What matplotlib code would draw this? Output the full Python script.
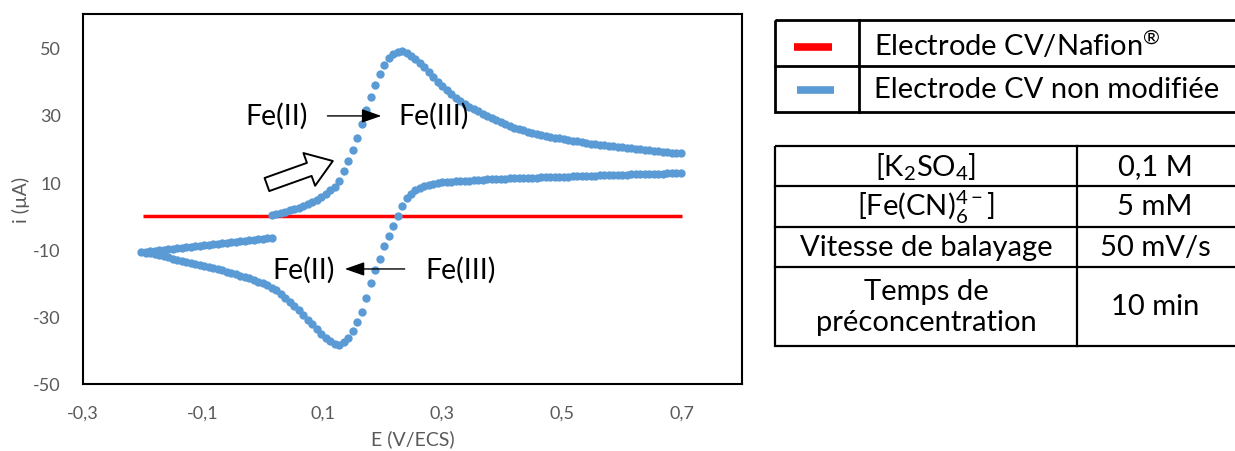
import matplotlib
matplotlib.use("Agg")
import matplotlib.pyplot as plt
from matplotlib.patches import Rectangle

plt.rcParams['font.family'] = ['Lato', 'DejaVu Sans']
plt.rcParams['mathtext.fontset'] = 'custom'
plt.rcParams['mathtext.rm'] = 'Lato'
plt.rcParams['mathtext.it'] = 'Lato:italic'
plt.rcParams['mathtext.bf'] = 'Lato:bold'

# ---------------- data ----------------
# Forward scan 1 (0.015 -> 0.6975 V)
E_fwd = [0.0150, 0.0225, 0.0300, 0.0375, 0.0450, 0.0525, 0.0600, 0.0675, 0.0750, 0.0825,
         0.0900, 0.0975, 0.1050, 0.1125, 0.1200, 0.1275, 0.1350, 0.1425, 0.1500, 0.1575,
         0.1650, 0.1725, 0.1800, 0.1875, 0.1950, 0.2025, 0.2100, 0.2175, 0.2250, 0.2325,
         0.2400, 0.2475, 0.2550, 0.2625, 0.2700, 0.2775, 0.2850, 0.2925, 0.3000, 0.3075,
         0.3150, 0.3225, 0.3300, 0.3375, 0.3450, 0.3525, 0.3600, 0.3675, 0.3750, 0.3825,
         0.3900, 0.3975, 0.4050, 0.4125, 0.4200, 0.4275, 0.4350, 0.4425, 0.4500, 0.4575,
         0.4650, 0.4725, 0.4800, 0.4875, 0.4950, 0.5025, 0.5100, 0.5175, 0.5250, 0.5325,
         0.5400, 0.5475, 0.5550, 0.5625, 0.5700, 0.5775, 0.5850, 0.5925, 0.6000, 0.6075,
         0.6150, 0.6225, 0.6300, 0.6375, 0.6450, 0.6525, 0.6600, 0.6675, 0.6750, 0.6825,
         0.6900, 0.6975]
i_fwd = [0.2, 0.6, 0.9, 1.2, 1.6, 2.0, 2.4, 2.9, 3.4, 4.0,
         4.7, 5.5, 6.5, 7.6, 8.7, 10.5, 13.3, 16.2, 19.6, 23.2,
         27.4, 31.5, 35.3, 38.9, 42.1, 44.8, 46.8, 48.1, 48.8, 49.0,
         48.4, 47.6, 46.5, 45.4, 44.2, 42.8, 41.2, 39.8, 38.5, 37.3,
         36.1, 35.0, 34.1, 33.3, 32.5, 31.8, 31.1, 30.4, 29.7, 29.0,
         28.4, 27.8, 27.2, 26.7, 26.2, 25.8, 25.4, 25.0, 24.7, 24.4,
         24.1, 23.8, 23.5, 23.2, 23.0, 22.7, 22.5, 22.3, 22.1, 21.9,
         21.7, 21.5, 21.4, 21.2, 21.0, 20.9, 20.7, 20.6, 20.4, 20.3,
         20.1, 20.0, 19.8, 19.7, 19.5, 19.4, 19.2, 19.1, 19.0, 18.8,
         18.7, 18.6]

# Reverse scan (0.6975 -> -0.2025 V)
E_rev = [0.6975, 0.6900, 0.6825, 0.6750, 0.6675, 0.6600, 0.6525, 0.6450, 0.6375, 0.6300,
         0.6225, 0.6150, 0.6075, 0.6000, 0.5925, 0.5850, 0.5775, 0.5700, 0.5625, 0.5550,
         0.5475, 0.5400, 0.5325, 0.5250, 0.5175, 0.5100, 0.5025, 0.4950, 0.4875, 0.4800,
         0.4725, 0.4650, 0.4575, 0.4500, 0.4425, 0.4350, 0.4275, 0.4200, 0.4125, 0.4050,
         0.3975, 0.3900, 0.3825, 0.3750, 0.3675, 0.3600, 0.3525, 0.3450, 0.3375, 0.3300,
         0.3225, 0.3150, 0.3075, 0.3000, 0.2925, 0.2850, 0.2775, 0.2700, 0.2625, 0.2550,
         0.2475, 0.2400, 0.2325, 0.2250, 0.2175, 0.2100, 0.2025, 0.1950, 0.1875, 0.1800,
         0.1725, 0.1650, 0.1575, 0.1500, 0.1425, 0.1350, 0.1275, 0.1200, 0.1125, 0.1050,
         0.0975, 0.0900, 0.0825, 0.0750, 0.0675, 0.0600, 0.0525, 0.0450, 0.0375, 0.0300,
         0.0225, 0.0150, 0.0075, 0.0000, -0.0075, -0.0150, -0.0225, -0.0300, -0.0375, -0.0450,
         -0.0525, -0.0600, -0.0675, -0.0750, -0.0825, -0.0900, -0.0975, -0.1050, -0.1125, -0.1200,
         -0.1275, -0.1350, -0.1425, -0.1500, -0.1575, -0.1650, -0.1725, -0.1800, -0.1875, -0.1950,
         -0.2025]
i_rev = [12.7, 12.6, 12.6, 12.6, 12.5, 12.5, 12.5, 12.4, 12.4, 12.4,
         12.3, 12.3, 12.2, 12.2, 12.2, 12.1, 12.1, 12.0, 12.0, 11.9,
         11.9, 11.8, 11.8, 11.7, 11.7, 11.6, 11.6, 11.5, 11.5, 11.4,
         11.4, 11.4, 11.3, 11.3, 11.3, 11.2, 11.2, 11.1, 11.1, 11.0,
         11.0, 10.9, 10.9, 10.8, 10.7, 10.7, 10.6, 10.5, 10.5, 10.4,
         10.3, 10.2, 10.1, 10.0, 9.8, 9.6, 9.3, 8.9, 8.3, 7.6,
         6.6, 5.3, 3.0, 0.0, -3.1, -6.0, -9.0, -12.7, -16.2, -20.0,
         -24.4, -28.5, -31.6, -34.3, -36.3, -37.6, -38.3, -38.0, -37.3, -36.3,
         -35.0, -33.5, -32.2, -30.9, -29.5, -28.1, -26.8, -25.5, -24.3, -23.2,
         -22.2, -21.4, -20.7, -20.1, -19.6, -19.1, -18.6, -18.2, -17.8, -17.4,
         -17.0, -16.6, -16.2, -15.8, -15.5, -15.2, -14.9, -14.6, -14.3, -14.0,
         -13.7, -13.4, -13.0, -12.7, -12.3, -12.0, -11.7, -11.4, -11.2, -11.0,
         -10.9]

# Forward scan 2 (-0.195 -> 0.015 V)
E_fwd2 = [-0.1950, -0.1875, -0.1800, -0.1725, -0.1650, -0.1575, -0.1500, -0.1425, -0.1350, -0.1275,
          -0.1200, -0.1125, -0.1050, -0.0975, -0.0900, -0.0825, -0.0750, -0.0675, -0.0600, -0.0525,
          -0.0450, -0.0375, -0.0300, -0.0225, -0.0150, -0.0075, 0.0000, 0.0075, 0.0150]
i_fwd2 = [-10.7, -10.5, -10.4, -10.2, -10.1, -9.9, -9.8, -9.6, -9.5, -9.3,
          -9.2, -9.0, -8.9, -8.7, -8.6, -8.4, -8.3, -8.1, -8.0, -7.8,
          -7.7, -7.5, -7.4, -7.2, -7.1, -6.9, -6.8, -6.6, -6.5]

# Nafion-modified electrode (flat line)
E_nafion = [-0.2, 0.7]
i_nafion = [0.0, 0.0]

xticks = [-0.3, -0.1, 0.1, 0.3, 0.5, 0.7]
xtick_labels = ['-0,3', '-0,1', '0,1', '0,3', '0,5', '0,7']
yticks = [-50, -30, -10, 10, 30, 50]
ytick_labels = ['-50', '-30', '-10', '10', '30', '50']

legend_labels = [r'Electrode CV/Nafion$^{\mathrm{®}}$', 'Electrode CV non modifiée']
param_names = [r'[K$_{\mathrm{2}}$SO$_{\mathrm{4}}$]', r'[Fe(CN)$_{\mathrm{6}}^{\mathrm{4-}}$]',
               'Vitesse de balayage', 'Temps de\npréconcentration']
param_values = ['0,1 M', '5 mM', '50 mV/s', '10 min']

RED = '#FF0000'
BLUE = '#5B9BD5'
GREY = '#595959'

# ---------------- figure ----------------
fig = plt.figure(figsize=(12.35, 4.52), dpi=100)
W, H = 1235, 452
ax = fig.add_axes([83 / W, 1 - 385 / H, (742 - 83) / W, (385 - 15) / H])

ax.plot(E_nafion, i_nafion, color=RED, lw=2.5, zorder=2, solid_capstyle='butt')
E_all = E_fwd + E_rev + E_fwd2
i_all = i_fwd + i_rev + i_fwd2
ax.plot(E_all, i_all, ls='none', marker='o', ms=6.0, mew=0, color=BLUE, zorder=3)

ax.set_xlim(-0.3, 0.8)
ax.set_ylim(-50, 60)
ax.set_xticks(xticks)
ax.set_xticklabels(xtick_labels)
ax.set_yticks(yticks)
ax.set_yticklabels(ytick_labels)
ax.tick_params(length=0, labelsize=13, colors=GREY)
ax.tick_params(axis='x', pad=15)
ax.tick_params(axis='y', pad=16)
for s in ax.spines.values():
    s.set_linewidth(1.5)
    s.set_color('black')
ax.set_xlabel('E (V/ECS)', fontsize=14, color=GREY, labelpad=6)
ax.set_ylabel('i (µA)', fontsize=14, color=GREY, labelpad=2)

# annotations
afs = 20.5
ax.text(0.0233, 29.9, 'Fe(II)', fontsize=afs, ha='center', va='center')
ax.text(0.285, 29.9, 'Fe(III)', fontsize=afs, ha='center', va='center')
ax.annotate('', xy=(0.198, 29.7), xytext=(0.108, 29.7),
            arrowprops=dict(arrowstyle='-|>,head_length=1.0,head_width=0.35', color='black',
                            lw=1.0, shrinkA=0, shrinkB=0, mutation_scale=12))
ax.text(0.0675, -15.9, 'Fe(II)', fontsize=afs, ha='center', va='center')
ax.text(0.330, -15.9, 'Fe(III)', fontsize=afs, ha='center', va='center')
ax.annotate('', xy=(0.137, -15.8), xytext=(0.237, -15.8),
            arrowprops=dict(arrowstyle='-|>,head_length=1.0,head_width=0.35', color='black',
                            lw=1.0, shrinkA=0, shrinkB=0, mutation_scale=12))
ax.annotate('', xy=(0.117, 16.3), xytext=(0.007, 9.3),
            arrowprops=dict(arrowstyle='simple,head_length=0.9,head_width=1.25,tail_width=0.5',
                            fc='white', ec='black', lw=1.4, shrinkA=0, shrinkB=0,
                            mutation_scale=20))

# ---------------- right-hand tables (pixel coords) ----------------
tx = fig.add_axes([0, 0, 1, 1], facecolor='none')
tx.set_xlim(0, W)
tx.set_ylim(H, 0)
tx.axis('off')

# legend table
lw_leg = 2.0
tx.add_patch(Rectangle((775, 21), 1237 - 775, 113 - 21, fill=False, ec='black', lw=lw_leg))
tx.plot([775, 1237], [67, 67], color='black', lw=lw_leg)
tx.plot([859, 859], [21, 113], color='black', lw=lw_leg)
tx.plot([794, 832], [48, 48], color=RED, lw=5.5, solid_capstyle='butt')
tx.plot([797, 834], [91, 91], color=BLUE, lw=5.5, solid_capstyle='butt')
lfs = 21
tx.text(874, 45, legend_labels[0], fontsize=lfs, ha='left', va='center')
tx.text(874, 90, legend_labels[1], fontsize=lfs, ha='left', va='center')

# parameter table
lw_tab = 1.6
tx.add_patch(Rectangle((775, 147), 1237 - 775, 347 - 147, fill=False, ec='black', lw=lw_tab))
for yy in [187, 228, 268]:
    tx.plot([775, 1237], [yy, yy], color='black', lw=lw_tab)
tx.plot([1077, 1077], [147, 347], color='black', lw=lw_tab)
row_y = [167, 207.5, 248, 307.5]
for name, val, yy in zip(param_names, param_values, row_y):
    tx.text(926, yy, name, fontsize=lfs, ha='center', va='center', linespacing=1.25)
    tx.text(1155, yy, val, fontsize=lfs, ha='center', va='center')

fig.savefig('out.png', dpi=100)
